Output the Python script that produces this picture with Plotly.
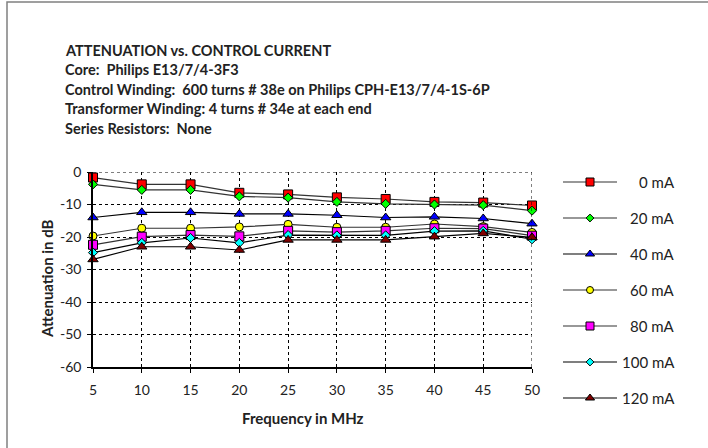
import plotly.graph_objects as go

# ---------------- data ----------------
freq_mhz = [5, 10, 15, 20, 25, 30, 35, 40, 45, 50]
series_names = ["0 mA", "20 mA", "40 mA", "60 mA", "80 mA", "100 mA", "120 mA"]
att_0mA   = [-1.7, -3.8, -3.8, -6.4, -6.9, -7.8, -8.3, -9.2, -9.4, -10.3]
att_20mA  = [-3.8, -5.5, -5.5, -7.5, -7.9, -9.2, -9.8, -10.0, -10.2, -11.9]
att_40mA  = [-14.0, -12.4, -12.4, -12.9, -12.9, -13.3, -14.0, -13.8, -14.3, -15.9]
att_60mA  = [-19.7, -17.3, -17.3, -16.9, -16.1, -17.0, -17.0, -16.0, -16.8, -18.6]
att_80mA  = [-22.4, -19.9, -19.4, -19.8, -18.1, -18.5, -18.1, -17.3, -17.4, -19.6]
att_100mA = [-24.8, -21.8, -20.3, -21.8, -19.4, -19.5, -19.5, -18.2, -18.1, -20.7]
att_120mA = [-26.9, -23.0, -23.0, -24.0, -20.9, -20.9, -20.9, -19.9, -18.9, -20.1]
series_values = [att_0mA, att_20mA, att_40mA, att_60mA, att_80mA, att_100mA, att_120mA]
x_ticks = [5, 10, 15, 20, 25, 30, 35, 40, 45, 50]
y_ticks = [0, -10, -20, -30, -40, -50, -60]
y_tick_labels = ["0", "-10", "-20", "-30", "-40", "-50", "-60"]
title_lines = [
    "ATTENUATION vs. CONTROL CURRENT",
    "Core:  Philips E13/7/4-3F3",
    "Control Winding:  600 turns # 38e on Philips CPH-E13/7/4-1S-6P",
    "Transformer Winding: 4 turns # 34e at each end",
    "Series Resistors:  None",
]

# ---------------- styles ----------------
W, H = 708, 448
FONT = "Lato"
TXT = "#222222"
symbols = ["square", "diamond", "triangle-up", "circle", "square", "diamond", "triangle-up"]
fills = ["#FF0000", "#00FF00", "#0000FF", "#FFFF00", "#FF00FF", "#00FFFF", "#800000"]
sizes = [9, 7, 9, 8, 9, 7, 9]
leg_sizes = [8, 6, 8, 7, 8, 6, 8]
line_cols = ["#333333", "#333333", "#000000", "#333333", "#333333", "#000000", "#000000"]

PL, PR, PT, PB = 93, 532, 172, 367  # plot area in pixels

fig = go.Figure()

for name, vals, sym, fc, sz, lc in zip(series_names, series_values, symbols, fills, sizes, line_cols):
    fig.add_trace(go.Scatter(
        x=freq_mhz, y=vals, mode="lines+markers", name=name,
        line=dict(color=lc, width=1.2),
        marker=dict(symbol=sym, color=fc, size=sz, line=dict(color="#000000", width=1)),
        xaxis="x", yaxis="y", showlegend=False, cliponaxis=False,
    ))

# custom legend in a pixel-unit overlay axis
LEG_X0, LEG_XM, LEG_X1, LEG_TX = 563, 590, 617, 677
LEG_Y0, LEG_DY = 182, 36
for i, (name, sym, fc, sz, lc) in enumerate(zip(series_names, symbols, fills, leg_sizes, line_cols)):
    ry = LEG_Y0 + LEG_DY * i
    fig.add_trace(go.Scatter(
        x=[LEG_X0, LEG_X1], y=[ry, ry], mode="lines",
        line=dict(color=lc, width=1.2), xaxis="x2", yaxis="y2",
        showlegend=False, hoverinfo="skip",
    ))
    fig.add_trace(go.Scatter(
        x=[LEG_XM], y=[ry], mode="markers",
        marker=dict(symbol=sym, color=fc, size=sz, line=dict(color="#000000", width=1)),
        xaxis="x2", yaxis="y2", showlegend=False, hoverinfo="skip",
    ))
    fig.add_annotation(x=LEG_TX, y=ry, xref="x2", yref="y2", text=name,
                       showarrow=False, xanchor="right", yanchor="middle",
                       font=dict(family=FONT, size=15, color=TXT))

# title block
for j, t in enumerate(title_lines):
    fig.add_annotation(x=63 / W, y=1 - (50 + 19.6 * j) / H, xref="paper", yref="paper",
                       text="<b>" + t + "</b>", showarrow=False, xanchor="left", yanchor="middle",
                       font=dict(family=FONT, size=14.5, color=TXT))

# axis titles
fig.add_annotation(x=303 / W, y=1 - 418 / H, xref="paper", yref="paper",
                   text="<b>Frequency in MHz</b>", showarrow=False,
                   xanchor="center", yanchor="middle",
                   font=dict(family=FONT, size=15, color=TXT))
fig.add_annotation(x=47 / W, y=1 - 279 / H, xref="paper", yref="paper",
                   text="<b>Attenuation in dB</b>", showarrow=False, textangle=-90,
                   xanchor="center", yanchor="middle",
                   font=dict(family=FONT, size=15, color=TXT))

# outer frame
fig.add_shape(type="rect", xref="paper", yref="paper",
              x0=7 / W, x1=1.2, y0=-0.2, y1=1 - 2 / H,
              line=dict(color="#808080", width=1.5))

grid = dict(showgrid=True, gridcolor="#000000", griddash="dot", gridwidth=1)
fig.update_layout(
    width=W, height=H,
    margin=dict(l=0, r=0, t=0, b=0),
    paper_bgcolor="white", plot_bgcolor="rgba(0,0,0,0)",
    font=dict(family=FONT, color=TXT),
    xaxis=dict(domain=[PL / W, PR / W], range=[5, 50], tickvals=x_ticks,
               showline=True, linecolor="#000000", linewidth=1.5,
               ticks="outside", ticklen=4, tickcolor="#000000", ticklabelstandoff=5,
               tickfont=dict(family=FONT, size=14, color=TXT), zeroline=False,
               anchor="y", automargin=False, **grid),
    yaxis=dict(domain=[1 - PB / H, 1 - PT / H], range=[-60, 0], tickvals=y_ticks,
               ticktext=y_tick_labels,
               showline=True, linecolor="#000000", linewidth=1.5,
               ticks="outside", ticklen=4, tickcolor="#000000", ticklabelstandoff=3,
               tickfont=dict(family=FONT, size=14, color=TXT), zeroline=False,
               anchor="x", automargin=False, **grid),
    xaxis2=dict(domain=[0, 1], range=[0, W], visible=False, anchor="y2", fixedrange=True),
    yaxis2=dict(domain=[0, 1], range=[H, 0], visible=False, anchor="x2", fixedrange=True),
    showlegend=False,
)
# right and top dotted border lines of plot area
fig.add_shape(type="line", xref="x", yref="y", x0=50, x1=50, y0=-60, y1=0,
              line=dict(color="#000000", width=1, dash="dot"))
fig.add_shape(type="line", xref="x", yref="y", x0=5, x1=50, y0=0, y1=0,
              line=dict(color="#000000", width=1, dash="dot"))

fig.write_html("out.html")
